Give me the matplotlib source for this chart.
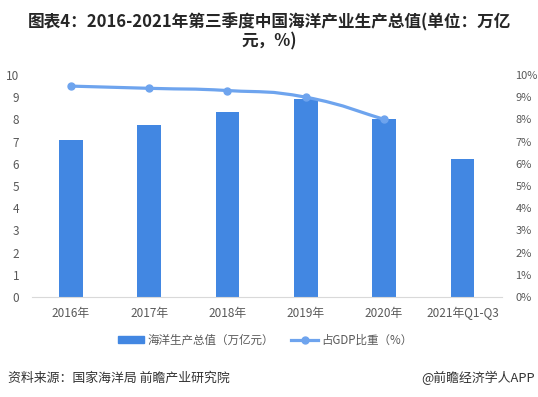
import matplotlib
matplotlib.use("Agg")
import matplotlib.pyplot as plt
import numpy as np
from matplotlib.path import Path
from matplotlib.patches import PathPatch
from matplotlib.lines import Line2D
from matplotlib.patches import Patch

plt.rcParams['font.family'] = ['Noto Sans CJK SC', 'DejaVu Sans']

# 数据
years = ['2016年', '2017年', '2018年', '2019年', '2020年', '2021年Q1-Q3']
output_value = [7.05, 7.76, 8.34, 8.94, 8.00, 6.20]   # 海洋生产总值（万亿元）
gdp_share = [9.5, 9.4, 9.3, 9.0, 8.0]                 # 占GDP比重（%）
left_ticks = list(range(0, 11))
right_ticks = list(range(0, 11))

bar_color = '#4287e2'
line_color = '#6ea4ee'
text_color = '#595959'

W, H = 538, 397
fig = plt.figure(figsize=(W / 100, H / 100), dpi=100)
ax = fig.add_axes([31.6 / W, (H - 297) / H, 470 / W, 222 / H])

x = np.arange(len(years))
ax.bar(x, output_value, width=0.30, color=bar_color, zorder=2)
ax.set_xlim(-0.5, len(years) - 0.5)
ax.set_ylim(0, 10)
ax.set_yticks(left_ticks)
ax.set_xticks(x)
ax.set_xticklabels(years)
ax.tick_params(axis='both', length=0, labelsize=8.5, colors=text_color)
ax.tick_params(axis='x', pad=7)
ax.tick_params(axis='y', pad=9)
for s in ['top', 'right', 'left']:
    ax.spines[s].set_visible(False)
ax.spines['bottom'].set_color('#d9d9d9')

ax2 = ax.twinx()
ax2.set_ylim(0, 10)
ax2.set_yticks(right_ticks)
ax2.set_yticklabels([f'{t}%' for t in right_ticks])
ax2.tick_params(axis='y', length=0, labelsize=8, colors=text_color, pad=10)
for s in ax2.spines.values():
    s.set_visible(False)

# 平滑曲线（Catmull-Rom 转贝塞尔）
px = np.arange(len(gdp_share), dtype=float)
py = np.array(gdp_share, dtype=float)
verts = [(px[0], py[0])]
codes = [Path.MOVETO]
t = 0.25
for i in range(len(px) - 1):
    p0 = (px[max(i - 1, 0)], py[max(i - 1, 0)])
    p1 = (px[i], py[i])
    p2 = (px[i + 1], py[i + 1])
    p3 = (px[min(i + 2, len(px) - 1)], py[min(i + 2, len(px) - 1)])
    c1 = (p1[0] + (p2[0] - p0[0]) * t, p1[1] + (p2[1] - p0[1]) * t)
    c2 = (p2[0] - (p3[0] - p1[0]) * t, p2[1] - (p3[1] - p1[1]) * t)
    verts += [c1, c2, p2]
    codes += [Path.CURVE4] * 3
ax2.add_patch(PathPatch(Path(verts, codes), fill=False, edgecolor=line_color,
                        lw=2.3, zorder=3, capstyle='round'))
ax2.plot(px, py, linestyle='none', marker='o', ms=5, color=line_color, zorder=4)

# 图例
handles = [Patch(color=bar_color),
           Line2D([0], [0], color=line_color, lw=2.3, marker='o', ms=5)]
fig.legend(handles, ['海洋生产总值（万亿元）', '占GDP比重（%）'],
           loc='center', bbox_to_anchor=(265 / W, (H - 340) / H), ncol=2,
           frameon=False, fontsize=8.3, labelcolor=text_color,
           handlelength=2.3, handleheight=0.6, columnspacing=1.5, handletextpad=0.3)

# 标题和来源
fig.text(0.5, (H - 22) / H, '图表4：2016-2021年第三季度中国海洋产业生产总值(单位：万亿',
         ha='center', va='center', fontsize=12, fontweight='bold', color='#262626')
fig.text(0.5, (H - 41) / H, '元，%)',
         ha='center', va='center', fontsize=12, fontweight='bold', color='#262626')
fig.text(8 / W, (H - 378) / H, '资料来源：国家海洋局 前瞻产业研究院',
         ha='left', va='center', fontsize=9.3, color='#333333')
fig.text(535 / W, (H - 378) / H, '@前瞻经济学人APP',
         ha='right', va='center', fontsize=9.3, color='#333333')

fig.savefig('out.png', dpi=100)
